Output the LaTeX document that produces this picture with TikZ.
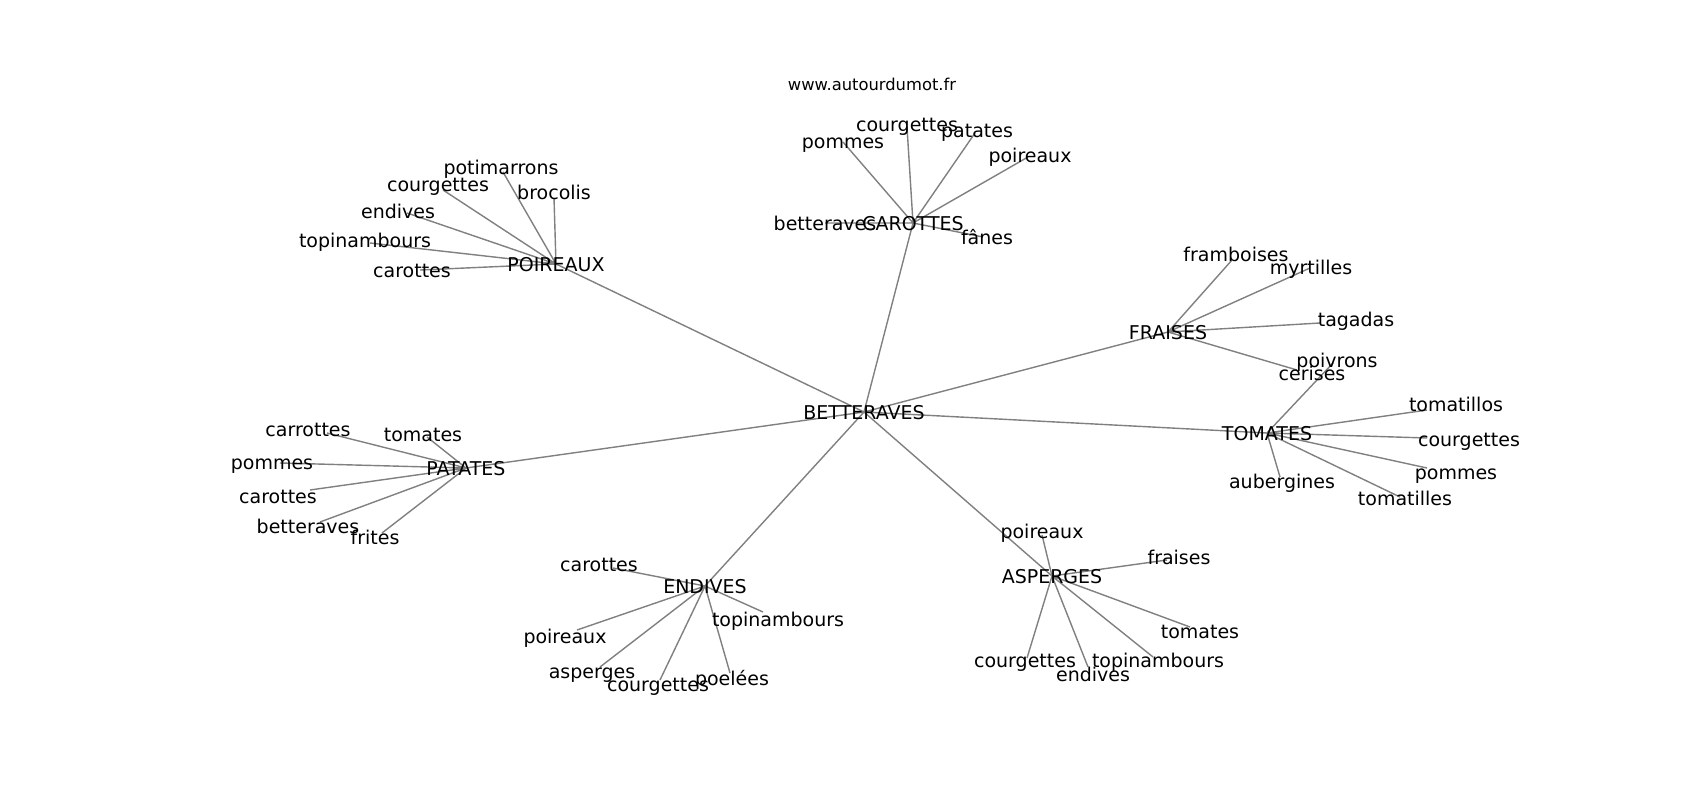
\documentclass[tikz,border=0pt]{standalone}
\usepackage{fontspec}
\setmainfont{DejaVu Sans}
\begin{document}
\begin{tikzpicture}[x=0.01cm,y=-0.01cm,
  link/.style={gray,line width=0.4pt},
  word/.style={inner sep=0pt,font=\fontsize{5.4}{6.5}\selectfont,text height=5.8pt,text depth=1.3pt}]
  \useasboundingbox (0,0) rectangle (1700,800);

  % Hubs
  \coordinate (bet) at (864,412);
  \coordinate (car) at (913,223);
  \coordinate (poi) at (556,264);
  \coordinate (fra) at (1168,332);
  \coordinate (tom) at (1267,433);
  \coordinate (pat) at (466,468);
  \coordinate (end) at (705,586);
  \coordinate (asp) at (1052,576);

  % Leaves of CAROTTES
  \coordinate (car1) at (843,142);  \coordinate (car2) at (907,127);
  \coordinate (car3) at (975,133);  \coordinate (car4) at (1028,157);
  \coordinate (car5) at (825,223);  \coordinate (car6) at (983,237);
  % Leaves of POIREAUX
  \coordinate (poi1) at (503,172);  \coordinate (poi2) at (443,190);
  \coordinate (poi3) at (554,198);  \coordinate (poi4) at (407,213);
  \coordinate (poi5) at (370,243);  \coordinate (poi6) at (420,270);
  % Leaves of FRAISES
  \coordinate (fra1) at (1232,260); \coordinate (fra2) at (1310,268);
  \coordinate (fra3) at (1320,323); \coordinate (fra4) at (1297,370);
  % Leaves of TOMATES
  \coordinate (tom1) at (1333,363); \coordinate (tom2) at (1427,410);
  \coordinate (tom3) at (1427,438); \coordinate (tom4) at (1427,468);
  \coordinate (tom5) at (1400,497); \coordinate (tom6) at (1280,477);
  % Leaves of PATATES
  \coordinate (pat1) at (327,433);  \coordinate (pat2) at (427,437);
  \coordinate (pat3) at (280,463);  \coordinate (pat4) at (310,490);
  \coordinate (pat5) at (320,522);  \coordinate (pat6) at (382,533);
  % Leaves of ENDIVES
  \coordinate (end1) at (613,568);  \coordinate (end2) at (763,612);
  \coordinate (end3) at (577,630);  \coordinate (end4) at (600,667);
  \coordinate (end5) at (660,680);  \coordinate (end6) at (730,673);
  % Leaves of ASPERGES
  \coordinate (asp1) at (1042,535); \coordinate (asp2) at (1167,560);
  \coordinate (asp3) at (1190,627); \coordinate (asp4) at (1027,658);
  \coordinate (asp5) at (1088,667); \coordinate (asp6) at (1153,657);

  % Links from the centre
  \draw[link] (bet) -- (car);
  \draw[link] (bet) -- (poi);
  \draw[link] (bet) -- (fra);
  \draw[link] (bet) -- (tom);
  \draw[link] (bet) -- (pat);
  \draw[link] (bet) -- (end);
  \draw[link] (bet) -- (asp);

  % Links to the leaves
  \draw[link] (car) -- (car1) (car) -- (car2) (car) -- (car3)
              (car) -- (car4) (car) -- (car5) (car) -- (car6);
  \draw[link] (poi) -- (poi1) (poi) -- (poi2) (poi) -- (poi3)
              (poi) -- (poi4) (poi) -- (poi5) (poi) -- (poi6);
  \draw[link] (fra) -- (fra1) (fra) -- (fra2) (fra) -- (fra3) (fra) -- (fra4);
  \draw[link] (tom) -- (tom1) (tom) -- (tom2) (tom) -- (tom3)
              (tom) -- (tom4) (tom) -- (tom5) (tom) -- (tom6);
  \draw[link] (pat) -- (pat1) (pat) -- (pat2) (pat) -- (pat3)
              (pat) -- (pat4) (pat) -- (pat5) (pat) -- (pat6);
  \draw[link] (end) -- (end1) (end) -- (end2) (end) -- (end3)
              (end) -- (end4) (end) -- (end5) (end) -- (end6);
  \draw[link] (asp) -- (asp1) (asp) -- (asp2) (asp) -- (asp3)
              (asp) -- (asp4) (asp) -- (asp5) (asp) -- (asp6);

  % Title
  \node[word,font=\fontsize{4.65}{5.6}\selectfont] (title) at (872,83) {www.autourdumot.fr};

  % Hub labels
  \node[word] (betT) at (bet) {BETTERAVES};
  \node[word] (carT) at (car) {CAROTTES};
  \node[word] (poiT) at (poi) {POIREAUX};
  \node[word] (fraT) at (fra) {FRAISES};
  \node[word] (tomT) at (tom) {TOMATES};
  \node[word] (patT) at (pat) {PATATES};
  \node[word] (endT) at (end) {ENDIVES};
  \node[word] (aspT) at (asp) {ASPERGES};

  % Leaf labels
  \node[word] (car1T) at (843,141) {pommes};
  \node[word] (car2T) at (907,124) {courgettes};
  \node[word] (car3T) at (977,130) {patates};
  \node[word] (car4T) at (1030,155) {poireaux};
  \node[word] (car5T) at (825,223) {betteraves};
  \node[word] (car6T) at (987,237) {fânes};

  \node[word] (poi1T) at (501,167) {potimarrons};
  \node[word] (poi2T) at (438,184) {courgettes};
  \node[word] (poi3T) at (554,192) {brocolis};
  \node[word] (poi4T) at (398,211) {endives};
  \node[word] (poi5T) at (365,240) {topinambours};
  \node[word] (poi6T) at (412,270) {carottes};

  \node[word] (fra1T) at (1236,254) {framboises};
  \node[word] (fra2T) at (1311,267) {myrtilles};
  \node[word] (fra3T) at (1356,319) {tagadas};
  \node[word] (fra4T) at (1312,373) {cerises};

  \node[word] (tom1T) at (1337,360) {poivrons};
  \node[word] (tom2T) at (1456,404) {tomatillos};
  \node[word] (tom3T) at (1469,439) {courgettes};
  \node[word] (tom4T) at (1456,472) {pommes};
  \node[word] (tom5T) at (1405,498) {tomatilles};
  \node[word] (tom6T) at (1282,481) {aubergines};

  \node[word] (pat1T) at (308,429) {carrottes};
  \node[word] (pat2T) at (423,434) {tomates};
  \node[word] (pat3T) at (272,462) {pommes};
  \node[word] (pat4T) at (278,496) {carottes};
  \node[word] (pat5T) at (308,526) {betteraves};
  \node[word] (pat6T) at (375,537) {frites};

  \node[word] (end1T) at (599,564) {carottes};
  \node[word] (end2T) at (778,619) {topinambours};
  \node[word] (end3T) at (565,636) {poireaux};
  \node[word] (end4T) at (592,671) {asperges};
  \node[word] (end5T) at (658,684) {courgettes};
  \node[word] (end6T) at (732,678) {poelées};

  \node[word] (asp1T) at (1042,531) {poireaux};
  \node[word] (asp2T) at (1179,557) {fraises};
  \node[word] (asp3T) at (1200,631) {tomates};
  \node[word] (asp4T) at (1025,660) {courgettes};
  \node[word] (asp5T) at (1093,674) {endives};
  \node[word] (asp6T) at (1158,660) {topinambours};

\end{tikzpicture}
\end{document}
